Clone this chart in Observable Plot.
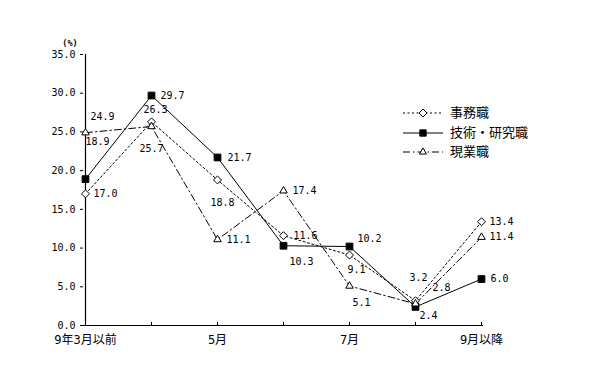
<!DOCTYPE html>
<html><head><meta charset="utf-8">
<script src="https://cdn.jsdelivr.net/npm/d3@7"></script>
<script src="https://cdn.jsdelivr.net/npm/@observablehq/plot@0.6"></script>
<style>
body{margin:0;background:#fff}
#chart{position:relative;width:615px;height:391px}
#chart svg{display:block}
#overlay{position:absolute;left:0;top:0;pointer-events:none}
</style>
</head><body><div id="chart"></div>
<script>
// ---- data ----
const months = ["9年3月以前", "4月", "5月", "6月", "7月", "8月", "9月以降"];
const shownMonths = ["9年3月以前", "5月", "7月", "9月以降"];
const yTicks = [0, 5, 10, 15, 20, 25, 30, 35];
const seriesNames = ["事務職", "技術・研究職", "現業職"];
const jimu = [17.0, 26.3, 18.8, 11.6, 9.1, 3.2, 13.4];
const gijutsu = [18.9, 29.7, 21.7, 10.3, 10.2, 2.4, 6.0];
const genkyo = [24.9, 25.7, 11.1, 17.4, 5.1, 2.8, 11.4];
const unitLabel = "(%)";

// label placement (pixel offsets of the value labels, text start / vertical middle)
const jimuLabelOffsets = [[8,0],[-8,-12],[-7,23],[10,0],[-2,15],[-6,-23],[8,0]];
const gijutsuLabelOffsets = [[0,-37],[9,0],[10,0],[6,16],[8,-8],[4,9],[9,0]];
const genkyoLabelOffsets = [[5,-16],[-12,22],[9,0],[9,0],[3,17],[17,-16],[8,0]];

const numFont = "DejaVu Sans Mono, Liberation Mono, monospace";
const cjkFont = "DejaVu Sans Mono, Noto Sans CJK JP, sans-serif";

const series = [
  {name: seriesNames[0], values: jimu, offsets: jimuLabelOffsets, dash: "2,2.5", symbol: "diamond2", fill: "white", r: 3.6},
  {name: seriesNames[1], values: gijutsu, offsets: gijutsuLabelOffsets, dash: null, symbol: "square", fill: "black", r: 3.8},
  {name: seriesNames[2], values: genkyo, offsets: genkyoLabelOffsets, dash: "7,3,1.5,3", symbol: "triangle2", fill: "white", r: 3.6}
];

const marks = [];
marks.push(Plot.ruleY([0], {stroke: "black", strokeWidth: 1.2}));
marks.push(Plot.ruleX([months[0]], {stroke: "black", strokeWidth: 1.2}));
marks.push(Plot.axisY(yTicks, {tickSize: 3, tickPadding: 5, tickFormat: d => d.toFixed(1), fontFamily: numFont, fontSize: 10, label: null}));
marks.push(Plot.axisX(months, {tickSize: 3, dy: -3, tickFormat: () => "", label: null}));
marks.push(Plot.axisX(shownMonths, {tickSize: 0, tickPadding: 10, fontFamily: cjkFont, fontSize: 12, label: null}));

for (const s of series) {
  const rows = months.map((m, i) => ({month: m, value: s.values[i]}));
  marks.push(Plot.line(rows, {x: "month", y: "value", stroke: "black", strokeWidth: 1, strokeDasharray: s.dash}));
}
for (const s of series) {
  const rows = months.map((m, i) => ({month: m, value: s.values[i]}));
  marks.push(Plot.dot(rows, {x: "month", y: "value", symbol: s.symbol, r: s.r, fill: s.fill, stroke: "black", strokeWidth: 1}));
  rows.forEach((row, i) => {
    marks.push(Plot.text([row], {x: "month", y: "value", text: d => d.value.toFixed(1), dx: s.offsets[i][0], dy: s.offsets[i][1], textAnchor: "start", fontFamily: numFont, fontSize: 10, fill: "black"}));
  });
}

const chart = Plot.plot({
  width: 615, height: 391,
  marginLeft: 83, marginRight: 132, marginTop: 54, marginBottom: 66,
  style: {background: "white", color: "black"},
  x: {type: "point", domain: months, padding: 0, axis: null},
  y: {domain: [0, 35], axis: null},
  marks
});
const container = document.getElementById("chart");
container.appendChild(chart);

// overlay: unit label and legend
const ov = d3.select(container).append("svg").attr("id", "overlay").attr("width", 615).attr("height", 391);
ov.append("text").attr("x", 70).attr("y", 43).attr("text-anchor", "middle").attr("dominant-baseline", "middle")
  .attr("font-family", cjkFont).attr("font-size", 8.5).attr("font-weight", "bold").text(unitLabel);

const legendRows = [113, 133, 152];
const symbolGen = {
  diamond2: d3.symbol(d3.symbolDiamond2, 40),
  square: d3.symbol(d3.symbolSquare, 40),
  triangle2: d3.symbol(d3.symbolTriangle2, 36)
};
series.forEach((s, i) => {
  const g = ov.append("g").attr("transform", `translate(0,${legendRows[i]})`);
  g.append("line").attr("x1", 403).attr("x2", 443).attr("y1", 0).attr("y2", 0)
    .attr("stroke", "black").attr("stroke-width", 1).attr("stroke-dasharray", s.dash);
  g.append("path").attr("d", symbolGen[s.symbol]()).attr("transform", "translate(423,0)")
    .attr("fill", s.fill).attr("stroke", "black").attr("stroke-width", 1);
  g.append("text").attr("x", 450).attr("y", 0).attr("dominant-baseline", "middle")
    .attr("font-family", "Noto Sans CJK JP, sans-serif").attr("font-size", 13).text(s.name);
});
</script>
</body></html>
